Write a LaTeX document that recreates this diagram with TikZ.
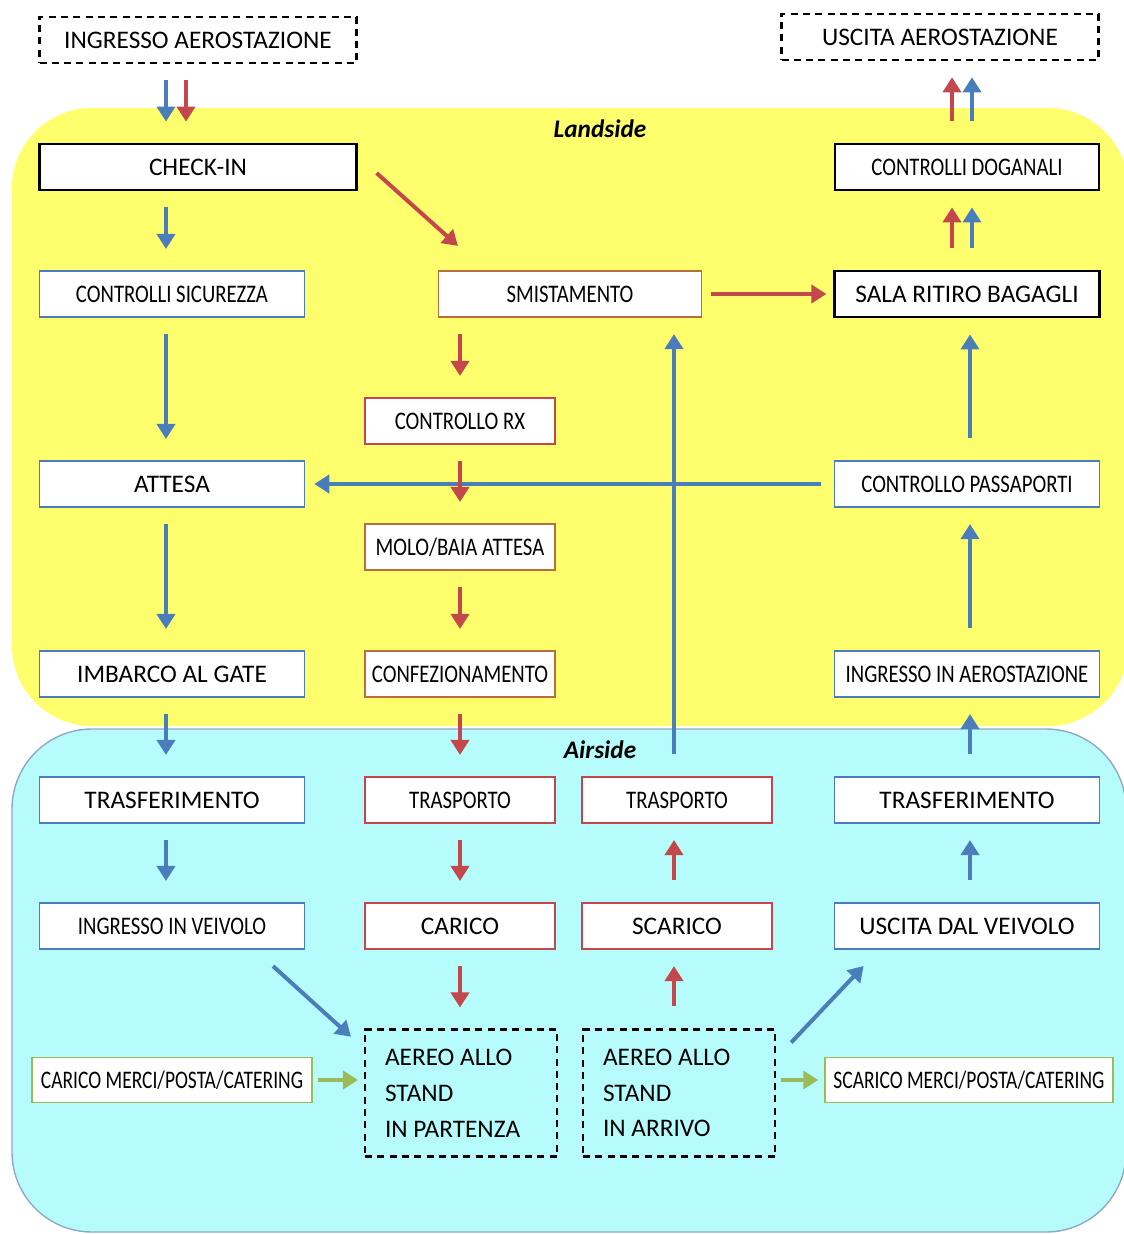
\documentclass[tikz,border=0pt]{standalone}
\usepackage{fontspec}
\setmainfont{Carlito}
\newfontfamily\narrow[FakeStretch=0.82]{Carlito}
\newfontfamily\slimfont[FakeStretch=0.77]{Carlito}
\usetikzlibrary{arrows.meta}
\definecolor{ly}{HTML}{FFFF6E}
\definecolor{la}{HTML}{B6FCFC}
\definecolor{lf}{HTML}{8FA9C6}
\definecolor{lb}{HTML}{4A7EBB}
\definecolor{lr}{HTML}{C4484B}
\definecolor{lo}{HTML}{B86E3C}
\definecolor{lg}{HTML}{9BBB59}
\tikzstyle{box} = [draw, fill=white, inner sep=0pt, minimum height=0.93cm, line width=0.9pt, font=\fontsize{14.4}{17}\selectfont]
\tikzstyle{sq} = [font=\narrow\fontsize{14.4}{17}\selectfont]
\tikzstyle{sqq} = [font=\slimfont\fontsize{14.4}{17}\selectfont]
\tikzstyle{pbox} = [box, draw=lb, minimum width=5.3cm]
\tikzstyle{rbox} = [box, draw=lr, minimum width=3.8cm]
\tikzstyle{obox} = [box, draw=lo, minimum width=3.8cm]
\tikzstyle{kbox} = [box, draw=black, line width=1.3pt, minimum width=5.3cm]
\tikzstyle{dbox} = [box, draw=black, line width=1.2pt, dash pattern=on 4pt off 3pt, minimum width=6.34cm]
\tikzstyle{gbox} = [box, draw=lg, minimum height=0.9cm]
\tikzstyle{stand} = [dbox, fill=none, minimum width=3.84cm, minimum height=2.54cm, text width=3.04cm, align=flush left, inner xsep=0.4cm, font=\fontsize{14.4}{20.4}\selectfont]
\tikzstyle{fl} = [line width=0.08cm, -{Triangle[length=0.3cm,width=0.36cm]}, shorten <=0.32cm, shorten >=0.42cm]
\tikzstyle{up} = [shorten <=0.44cm, shorten >=0.32cm]
\tikzstyle{pa} = [fl, lb]
\tikzstyle{ba} = [fl, lr]
\tikzstyle{ga} = [fl, lg, shorten <=0.1cm, shorten >=0.12cm]

\begin{document}
\begin{tikzpicture}[x=0.02cm,y=-0.02cm]
\useasboundingbox (0,0) rectangle (1124,1234);
\fill[ly, rounded corners=1.6cm] (12,108) rectangle (1128,726);
\filldraw[fill=la, draw=lf, line width=0.8pt, rounded corners=1.6cm] (12,729) rectangle (1126,1232);
\node[font=\fontsize{14.4}{17}\selectfont\bfseries\itshape] (land) at (600,129) {Landside};
\node[font=\fontsize{14.4}{17}\selectfont\bfseries\itshape] (air) at (600,750) {Airside};

\node[dbox] (ingr) at (198,40) {INGRESSO AEROSTAZIONE};
\node[dbox] (usc) at (940,37) {USCITA AEROSTAZIONE};
\node[kbox, minimum width=6.34cm] (chk) at (198,167) {CHECK-IN};
\node[kbox, sq, minimum width=5.28cm] (dog) at (967,167) {CONTROLLI DOGANALI};
\node[pbox, sq] (sic) at (172,294) {CONTROLLI SICUREZZA};
\node[obox, sq, minimum width=5.26cm] (smi) at (570,294) {SMISTAMENTO};
\node[kbox] (sala) at (967,294) {SALA RITIRO BAGAGLI};
\node[rbox, sq] (rx) at (460,421) {CONTROLLO RX};
\node[pbox] (att) at (172,484) {ATTESA};
\node[pbox, sq] (pass) at (967,484) {CONTROLLO PASSAPORTI};
\node[obox, sq] (molo) at (460,547) {MOLO/BAIA ATTESA};
\node[pbox] (imb) at (172,674) {IMBARCO AL GATE};
\node[obox, sq] (conf) at (460,674) {CONFEZIONAMENTO};
\node[pbox, sq] (inga) at (967,674) {INGRESSO IN AEROSTAZIONE};
\node[pbox] (trl) at (172,800) {TRASFERIMENTO};
\node[rbox, sq] (tpl) at (460,800) {TRASPORTO};
\node[rbox, sq] (tpr) at (677,800) {TRASPORTO};
\node[pbox] (trr) at (967,800) {TRASFERIMENTO};
\node[pbox, sq] (ingv) at (172,926) {INGRESSO IN VEIVOLO};
\node[rbox] (car) at (460,926) {CARICO};
\node[rbox] (sca) at (677,926) {SCARICO};
\node[pbox] (uscv) at (967,926) {USCITA DAL VEIVOLO};
\node[stand] (parz) at (461,1093) {AEREO ALLO\\STAND\\IN PARTENZA};
\node[stand] (arr) at (679,1093) {AEREO ALLO\\STAND\\IN ARRIVO};
\node[gbox, sqq, minimum width=5.6cm] (merl) at (172,1080) {CARICO MERCI/POSTA/CATERING};
\node[gbox, sqq, minimum width=5.76cm] (merr) at (969,1080) {SCARICO MERCI/POSTA/CATERING};

\draw[pa, shorten <=0.26cm, shorten >=0.18cm] (pass.west) -- (att.east);
\draw[pa] ([xshift=-0.64cm]ingr.south) -- ([xshift=-0.64cm]chk.north);
\draw[ba] ([xshift=-0.24cm]ingr.south) -- ([xshift=-0.24cm]chk.north);
\draw[pa] (chk.south -| 166,0) -- (sic.north -| 166,0);
\draw[ba, shorten <=0.51cm, shorten >=0.72cm] ([yshift=0.22cm]chk.east) -- ([xshift=0.94cm]smi.north west);
\draw[ba, shorten <=0.18cm, shorten >=0.14cm] (smi.east) -- (sala.west);
\draw[ba] (smi.south -| rx.north) -- (rx.north);
\draw[ba] (rx.south) -- (molo.north);
\draw[ba] (molo.south) -- (conf.north);
\draw[ba] (conf.south) -- (tpl.north);
\draw[ba] (tpl.south) -- (car.north);
\draw[ba] (car.south) -- (car.south |- parz.north);
\draw[pa] (sic.south -| 166,0) -- (att.north -| 166,0);
\draw[pa] (att.south -| 166,0) -- (imb.north -| 166,0);
\draw[pa] (imb.south -| 166,0) -- (trl.north -| 166,0);
\draw[pa] (trl.south -| 166,0) -- (ingv.north -| 166,0);
\draw[pa, shorten <=0.48cm, shorten >=0.35cm] ([xshift=-1cm]ingv.south east) -- ([yshift=-0.4cm]parz.north west);
\draw[ga] (merl.east) -- (merl.east -| parz.west);
\draw[pa, up] (tpr.north -| 674,0) -- (smi.south -| 674,0);
\draw[ba, up] (sca.north -| 674,0) -- (tpr.south -| 674,0);
\draw[ba, up] (arr.north -| 674,0) -- (sca.south -| 674,0);
\draw[pa, shorten <=0.44cm, shorten >=0.44cm] ([yshift=-0.6cm]arr.north east) -- ([xshift=0.9cm]uscv.south west);
\draw[ga] (arr.east |- merr.west) -- (merr.west);
\draw[pa, up] (uscv.north -| 970,0) -- (trr.south -| 970,0);
\draw[pa, up] (trr.north -| 970,0) -- (inga.south -| 970,0);
\draw[pa, up] (inga.north -| 970,0) -- (pass.south -| 970,0);
\draw[pa, up] (pass.north -| 970,0) -- (sala.south -| 970,0);
\draw[ba, up] (sala.north -| 952,0) -- (dog.south -| 952,0);
\draw[pa, up] (sala.north -| 972,0) -- (dog.south -| 972,0);
\draw[ba, up] (dog.north -| 952,0) -- (usc.south -| 952,0);
\draw[pa, up] (dog.north -| 972,0) -- (usc.south -| 972,0);
\end{tikzpicture}
\end{document}
